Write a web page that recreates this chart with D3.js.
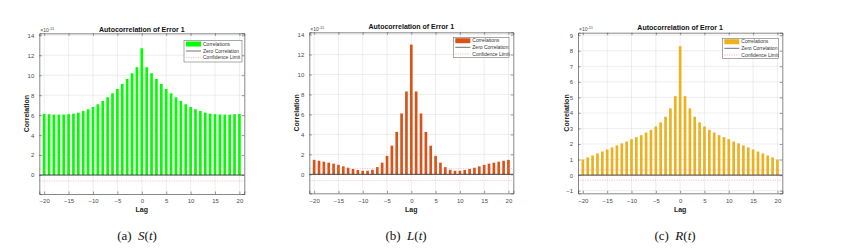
<!DOCTYPE html>
<html><head><meta charset="utf-8">
<script src="https://cdn.jsdelivr.net/npm/d3@7"></script>
<style>html,body{margin:0;padding:0;background:#fff;}svg{display:block;}</style>
</head><body>
<svg id="c" width="856" height="249"></svg>
<script>
const lags = [-20,-19,-18,-17,-16,-15,-14,-13,-12,-11,-10,-9,-8,-7,-6,-5,-4,-3,-2,-1,0,1,2,3,4,5,6,7,8,9,10,11,12,13,14,15,16,17,18,19,20];
const sValues = [6.12,6.09,6.05,6.05,6.06,6.10,6.15,6.25,6.42,6.59,6.82,7.09,7.42,7.79,8.19,8.63,9.13,9.63,10.2,10.8,12.7,10.8,10.2,9.63,9.13,8.63,8.19,7.79,7.42,7.09,6.82,6.59,6.42,6.25,6.15,6.10,6.06,6.05,6.05,6.09,6.12];
const lValues = [1.45,1.36,1.27,1.17,1.07,0.95,0.80,0.66,0.54,0.44,0.36,0.36,0.46,0.72,1.17,1.85,2.87,4.25,6.10,8.30,13.0,8.30,6.10,4.25,2.87,1.85,1.17,0.72,0.46,0.36,0.36,0.44,0.54,0.66,0.80,0.95,1.07,1.17,1.27,1.36,1.45];
const rValues = [1.00,1.14,1.26,1.39,1.52,1.65,1.78,1.91,2.04,2.16,2.31,2.44,2.57,2.74,2.91,3.13,3.39,3.75,4.29,5.08,8.29,5.08,4.29,3.75,3.39,3.13,2.91,2.74,2.57,2.44,2.31,2.16,2.04,1.91,1.78,1.65,1.52,1.39,1.26,1.14,1.00];
const xTicks = [-20,-15,-10,-5,0,5,10,15,20];
const yTicksAB = [0,2,4,6,8,10,12,14];
const yTicksC = [-1,0,1,2,3,4,5,6,7,8,9];
const confLimits = [0.6, 0.6, 0.33];
const titles = ["Autocorrelation of Error 1","Autocorrelation of Error 1","Autocorrelation of Error 1"];
const captionLetters = ["(a)","(b)","(c)"];
const captionVars = ["S","L","R"];
const legendLabels = ["Correlations","Zero Correlation","Confidence Limit"];

const panels = [
  {values:sValues, color:"#00ff00", box:[39.3,244.3,33.3,194], ydom:[-1.9,14.2], yt:yTicksAB, conf:confLimits[0], titleY:32, leg:[184,242,40.5,62], rows:[44,51,57.7], capX:137, ylabX:26},
  {values:lValues, color:"#d95319", box:[309.3,513.3,32.3,193.3], ydom:[-1.9,14.23], yt:yTicksAB, conf:confLimits[1], titleY:28.5, leg:[453.3,509,37.3,57.3], rows:[40.7,47.3,54], capX:406, ylabX:296},
  {values:rValues, color:"#edb120", box:[578,782.3,32.7,193.3], ydom:[-1.17,9.16], yt:yTicksC, conf:confLimits[2], titleY:29.5, leg:[722.3,778.3,38.3,58.3], rows:[41.7,48.3,55], capX:675, ylabX:566}
];

const svg = d3.select("#c");
const F = "'Liberation Sans', Arial, Helvetica, sans-serif";

panels.forEach((p, i) => {
  const [L, R, T, B] = p.box;
  const x = d3.scaleLinear().domain([-21, 21]).range([L, R]);
  const y = d3.scaleLinear().domain(p.ydom).range([B, T]);
  const g = svg.append("g");

  // grid
  g.selectAll(".gx").data(xTicks).join("line")
    .attr("x1", d => x(d)).attr("x2", d => x(d)).attr("y1", T).attr("y2", B)
    .attr("stroke", "#e3e3e3").attr("stroke-width", 0.6);
  g.selectAll(".gy").data(p.yt).join("line")
    .attr("x1", L).attr("x2", R).attr("y1", d => y(d)).attr("y2", d => y(d))
    .attr("stroke", "#e3e3e3").attr("stroke-width", 0.6);

  // bars
  const bw = (x(1) - x(0)) * 0.55;
  g.selectAll(".bar").data(lags.map((l, k) => [l, p.values[k]])).join("rect")
    .attr("x", d => x(d[0]) - bw / 2).attr("width", bw)
    .attr("y", d => y(Math.max(0, d[1]))).attr("height", d => Math.abs(y(d[1]) - y(0)))
    .attr("fill", p.color);

  // confidence limits
  [p.conf, -p.conf].forEach(c => {
    g.append("line").attr("x1", L).attr("x2", R).attr("y1", y(c)).attr("y2", y(c))
      .attr("stroke", "#ff8080").attr("stroke-width", 0.6).attr("stroke-dasharray", "1.2,1.2").attr("opacity", 0.8);
  });
  // zero line
  g.append("line").attr("x1", L).attr("x2", R).attr("y1", y(0)).attr("y2", y(0))
    .attr("stroke", "#333").attr("stroke-width", 0.9);

  // axes
  const axB = d3.axisBottom(x).tickValues(xTicks).tickSize(-2.5).tickPadding(5);
  const axT = d3.axisTop(x).tickValues(xTicks).tickSize(-2.5).tickFormat("");
  const axL = d3.axisLeft(y).tickValues(p.yt).tickSize(-2.5).tickPadding(5);
  const axR = d3.axisRight(y).tickValues(p.yt).tickSize(-2.5).tickFormat("");
  const styleAx = s => {
    s.select(".domain").attr("stroke", "#555").attr("stroke-width", 0.7);
    s.selectAll(".tick line").attr("stroke", "#555").attr("stroke-width", 0.6);
    s.selectAll("text").attr("fill", "#4a4a4a").style("font-family", F).style("font-size", "6px");
  };
  g.append("g").attr("transform", `translate(0,${B})`).call(axB).call(styleAx);
  g.append("g").attr("transform", `translate(0,${T})`).call(axT).call(styleAx);
  g.append("g").attr("transform", `translate(${L},0)`).call(axL).call(styleAx);
  g.append("g").attr("transform", `translate(${R},0)`).call(axR).call(styleAx);

  // exponent
  const ex = g.append("text").attr("x", L + 1).attr("y", T - 1.5)
    .attr("fill", "#4a4a4a").style("font-family", F).style("font-size", "5px");
  ex.append("tspan").text("\u00d710");
  ex.append("tspan").attr("dy", -2).style("font-size", "4px").text("-11");

  // title
  g.append("text").attr("x", (L + R) / 2).attr("y", p.titleY).attr("text-anchor", "middle")
    .style("font-family", F).style("font-size", "7px").style("font-weight", "bold").attr("fill", "#111")
    .text(titles[i]);
  // x label
  g.append("text").attr("x", (L + R) / 2).attr("y", 211.5).attr("text-anchor", "middle")
    .style("font-family", F).style("font-size", "7px").style("font-weight", "bold").attr("fill", "#222")
    .text("Lag");
  // y label
  g.append("text").attr("transform", `translate(${p.ylabX + 2.5},${(T + B) / 2}) rotate(-90)`)
    .attr("text-anchor", "middle")
    .style("font-family", F).style("font-size", "7px").style("font-weight", "bold").attr("fill", "#222")
    .text("Correlation");

  // legend
  const [lx0, lx1, ly0, ly1] = p.leg;
  g.append("rect").attr("x", lx0).attr("y", ly0).attr("width", lx1 - lx0).attr("height", ly1 - ly0)
    .attr("fill", "#fff").attr("stroke", "#555").attr("stroke-width", 0.5);
  const sx0 = lx0 + 2, sx1 = lx0 + 17;
  g.append("rect").attr("x", sx0).attr("y", p.rows[0] - 2.5).attr("width", sx1 - sx0).attr("height", 5).attr("fill", p.color);
  g.append("line").attr("x1", sx0).attr("x2", sx1).attr("y1", p.rows[1]).attr("y2", p.rows[1])
    .attr("stroke", "#333").attr("stroke-width", 0.7);
  g.append("line").attr("x1", sx0).attr("x2", sx1).attr("y1", p.rows[2]).attr("y2", p.rows[2])
    .attr("stroke", "#ff8080").attr("stroke-width", 0.6).attr("stroke-dasharray", "1.2,1.2");
  legendLabels.forEach((t, k) => {
    g.append("text").attr("x", sx1 + 2).attr("y", p.rows[k] + 1.7)
      .style("font-family", F).style("font-size", "5px").attr("fill", "#333").text(t);
  });

  // caption
  const cap = g.append("text").attr("x", p.capX).attr("y", 240).attr("text-anchor", "middle")
    .style("font-family", "'Liberation Serif','Times New Roman',serif").style("font-size", "13px").attr("fill", "#111");
  cap.append("tspan").text(captionLetters[i] + "\u00a0\u00a0");
  cap.append("tspan").style("font-style", "italic").text(captionVars[i]);
  cap.append("tspan").text("(");
  cap.append("tspan").style("font-style", "italic").text("t");
  cap.append("tspan").text(")");
});
</script>
</body></html>
